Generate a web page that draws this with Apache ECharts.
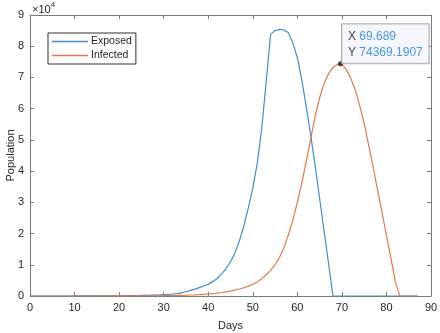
<!DOCTYPE html>
<html>
<head>
<meta charset="utf-8">
<script src="https://cdn.jsdelivr.net/npm/echarts@6/dist/echarts.min.js"></script>
<style>
  html, body { margin: 0; padding: 0; background: #fff; }
  #chart { width: 440px; height: 333px; }
</style>
</head>
<body>
<div id="chart"></div>
<script>
// SEIR simulation output (population per day)
var days = [0, 1, 2, 3, 4, 5, 6, 7, 8, 9, 10, 11, 12, 13, 14, 15, 16, 17, 18, 19,
  20, 21, 22, 23, 24, 25, 26, 27, 28, 29, 30, 31, 32, 33, 34, 35, 36, 37, 38, 39,
  40, 41, 42, 43, 44, 45, 46, 47, 48, 49, 50, 51, 52, 53, 54, 55, 56, 57, 58, 59,
  60, 61, 62, 63, 64, 65, 66, 67, 68, 69, 70, 71, 72, 73, 74, 75, 76, 77, 78, 79,
  80, 81, 82, 83, 84, 85, 86, 87];

var exposed = [1, 1, 2, 2, 3, 3, 4, 5, 6, 7, 9, 11, 13, 16, 20, 24, 30, 36, 44, 54,
  66, 80, 98, 120, 145, 175, 210, 250, 300, 360, 430, 520, 640, 790, 980, 1350, 1800, 2200, 2700, 3200,
  3800, 4600, 5600, 7100, 8800, 11000, 13800, 17700, 22500, 28200, 34500, 42500, 53500, 68500, 83800, 85000, 85400, 85200, 84300, 81000,
  76400, 69200, 60600, 51500, 41700, 31300, 20900, 10500, 0, 0, 0, 0, 0, 0, 0, 0, 0, 0, 0, 0,
  0, 0, 0, 0, 0, 0, 0, 0];

var infected = [0, 0, 0, 1, 1, 1, 1, 1, 2, 2, 2, 3, 3, 4, 5, 6, 7, 9, 11, 13,
  16, 19, 23, 28, 34, 41, 50, 60, 72, 87, 105, 126, 152, 183, 220, 265, 320, 385, 460, 550,
  660, 790, 940, 1120, 1330, 1580, 1880, 2230, 2650, 3150, 3750, 4500, 5500, 6800, 8200, 10000, 12300, 15500, 19600, 24400,
  30000, 36200, 43000, 50300, 57500, 63500, 68000, 71200, 73200, 74200, 74300, 72500, 69700, 66000, 61000, 55300, 48400, 41400, 34000, 26800,
  19500, 12100, 4600, 0, 0, 0, 0, 0];

var xTicks = [0, 10, 20, 30, 40, 50, 60, 70, 80, 90];
var yTicks = [0, 1, 2, 3, 4, 5, 6, 7, 8, 9]; // x 10^4

// data tip on the infected peak
var tipX = 69.689;
var tipY = 74369.1907;

function pairs(xs, ys) {
  return xs.map(function (x, i) { return [x, ys[i]]; });
}

var FONT = '"Liberation Sans", Arial, sans-serif';
var AXIS_COLOR = '#7a7a7a';
var TEXT_COLOR = '#262626';
var BLUE = '#3d8fd1';
var ORANGE = '#e5784a';

var chart = echarts.init(document.getElementById('chart'), null, { renderer: 'canvas' });

var baseX = {
  type: 'value',
  min: xTicks[0], max: xTicks[xTicks.length - 1], interval: 10,
  axisLine: { show: true, onZero: false, lineStyle: { color: AXIS_COLOR, width: 1 } },
  axisTick: { show: true, inside: true, length: 4, lineStyle: { color: AXIS_COLOR } },
  splitLine: { show: false }
};
var baseY = {
  type: 'value',
  min: 0, max: yTicks[yTicks.length - 1] * 10000, interval: 10000,
  axisLine: { show: true, onZero: false, lineStyle: { color: AXIS_COLOR, width: 1 } },
  axisTick: { show: true, inside: true, length: 4, lineStyle: { color: AXIS_COLOR } },
  splitLine: { show: false }
};

chart.setOption({
  animation: false,
  textStyle: { fontFamily: FONT },
  grid: { left: 30, right: 9, top: 15, bottom: 37, containLabel: false, outerBoundsMode: 'none' },
  legend: {
    left: 48, top: 33,
    orient: 'vertical',
    backgroundColor: '#fff',
    borderColor: '#303030', borderWidth: 1,
    padding: [3, 4, 3, 4],
    itemGap: 3,
    itemWidth: 36, itemHeight: 12,
    textStyle: { fontFamily: FONT, fontSize: 10.5, color: TEXT_COLOR, padding: [0, 0, 0, -2] },
    data: [
      { name: 'Exposed', icon: 'path://M0,5.5H36V6.8H0Z', itemStyle: { color: BLUE, borderWidth: 0 } },
      { name: 'Infected', icon: 'path://M0,5.5H36V6.8H0Z', itemStyle: { color: ORANGE, borderWidth: 0 } }
    ]
  },
  xAxis: [
    Object.assign({}, baseX, {
      position: 'bottom',
      name: 'Days', nameLocation: 'middle', nameGap: 24,
      nameTextStyle: { fontFamily: FONT, fontSize: 11, color: TEXT_COLOR },
      axisLabel: { show: true, margin: 6, fontFamily: FONT, fontSize: 11, color: TEXT_COLOR }
    }),
    Object.assign({}, baseX, { position: 'top', axisLabel: { show: false } })
  ],
  yAxis: [
    Object.assign({}, baseY, {
      position: 'left',
      name: 'Population', nameLocation: 'middle', nameGap: 14, nameMoveOverlap: false,
      nameTextStyle: { fontFamily: FONT, fontSize: 11, color: TEXT_COLOR },
      axisLabel: {
        show: true, margin: 6, fontFamily: FONT, fontSize: 11, color: TEXT_COLOR,
        formatter: function (v) { return String(v / 10000); }
      }
    }),
    Object.assign({}, baseY, { position: 'right', axisLabel: { show: false } })
  ],
  graphic: [{
    type: 'text',
    left: 32, top: 1,
    style: {
      text: '{a|\u00d710}{b|4}',
      rich: {
        a: { fontFamily: FONT, fontSize: 11, fill: TEXT_COLOR, verticalAlign: 'bottom' },
        b: { fontFamily: FONT, fontSize: 8, fill: TEXT_COLOR, verticalAlign: 'top', padding: [0, 0, 6, 0] }
      }
    }
  }],
  series: [
    {
      name: 'Exposed', type: 'line',
      data: pairs(days, exposed),
      showSymbol: false, symbol: 'none',
      lineStyle: { color: BLUE, width: 1.2 },
      itemStyle: { color: BLUE },
      z: 2
    },
    {
      name: 'Infected', type: 'line',
      data: pairs(days, infected),
      showSymbol: false, symbol: 'none',
      lineStyle: { color: ORANGE, width: 1.2 },
      itemStyle: { color: ORANGE },
      z: 3
    },
    {
      name: 'tip', type: 'scatter',
      data: [[tipX, tipY]],
      symbolSize: 5,
      itemStyle: { color: '#111' },
      z: 5,
      label: {
        show: true,
        position: [4, 2],
        align: 'left', verticalAlign: 'bottom',
        backgroundColor: '#f3f5fb',
        borderColor: '#9a9a9a', borderWidth: 1,
        padding: [4, 6, 3, 6],
        formatter: function () {
          return '{k|X} {v|' + tipX + '}\n{k|Y} {v|' + tipY + '}';
        },
        rich: {
          k: { fontFamily: FONT, fontSize: 12, color: '#111', lineHeight: 16 },
          v: { fontFamily: FONT, fontSize: 12, color: '#1e7de0', lineHeight: 16 }
        }
      }
    }
  ]
});
</script>
</body>
</html>
